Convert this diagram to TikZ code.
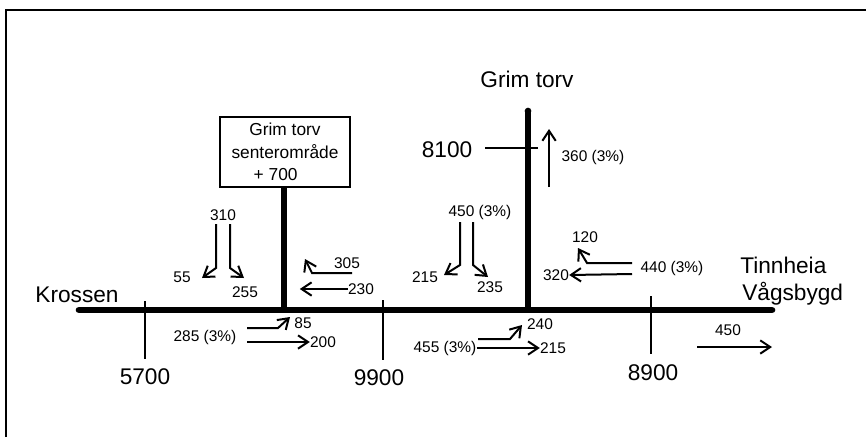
\documentclass[tikz,border=0pt]{standalone}
\usepackage{fontspec}
\setmainfont{Liberation Sans}
\usetikzlibrary{arrows.meta}
\tikzset{
  big/.style={font=\fontsize{17}{19}\selectfont, inner sep=0pt},
  mid/.style={font=\fontsize{13}{17}\selectfont},
  small/.style={font=\fontsize{11.6}{13}\selectfont, inner sep=0pt},
  road/.style={line width=5pt, line cap=round},
  tickline/.style={line width=1.4pt},
  flow/.style={line width=1.5pt, -{Straight Barb[length=7.5pt,width=10pt,line width=1.5pt]}},
  signbox/.style={draw, line width=1.1pt, minimum width=97.5pt, minimum height=52.5pt, align=center, inner sep=2pt, mid}
}
\begin{document}
\begin{tikzpicture}[x=0.75pt,y=-0.75pt]
\useasboundingbox (0,0) rectangle (866,437);
% frame (top and left edges)
\coordinate (fbl) at (6,437);
\coordinate (ftl) at (6,10);
\coordinate (ftr) at (866,10);
\draw[line width=2pt] (fbl) -- (ftl) -- (ftr);

% roads
\coordinate (rw) at (79,310);
\coordinate (re) at (772,310);
\coordinate (j1) at (284,310);
\coordinate (j2) at (528,310);
\coordinate (gtop) at (528,111);
\draw[road] (rw) -- (re);
\draw[road, line cap=butt] (gtop) -- (j2);
\fill (gtop) circle (2.5pt);

\node[signbox] (sent) at (285,152) {Grim torv\\senteromr\aa de\\\hspace*{-14pt}+ 700};
\draw[road, line cap=butt] (sent.south -| j1) -- (j1);

% big labels
\node[big, anchor=base] (grim) at (527,87) {Grim torv};
\node[big, anchor=base] (t8100) at (447,157) {8100};
\node[big, anchor=base] (kros) at (77,302) {Krossen};
\node[big, anchor=base west] (tinn) at (740,273) {Tinnheia};
\node[big, anchor=base west] (vags) at (742,300) {V\aa gsbygd};
\node[big, anchor=base] (t5700) at (145,384) {5700};
\node[big, anchor=base] (t9900) at (379,385) {9900};
\node[big, anchor=base] (t8900) at (653,380) {8900};

% ticks
\coordinate (k1a) at (145,301); \coordinate (k1b) at (145,359);
\coordinate (k2a) at (383,300); \coordinate (k2b) at (383,360);
\coordinate (k3a) at (651,296); \coordinate (k3b) at (651,354);
\coordinate (k4a) at (485,148); \coordinate (k4b) at (538,148);
\draw[tickline] (k1a) -- (k1b);
\draw[tickline] (k2a) -- (k2b);
\draw[tickline] (k3a) -- (k3b);
\draw[tickline] (k4a) -- (k4b);

% small labels
\node[small] (n310) at (223,215) {310};
\node[small] (n55) at (182,277) {55};
\node[small] (n255) at (245,292) {255};
\node[small] (n305) at (347,263) {305};
\node[small] (n230) at (361,289) {230};
\node[small] (n285) at (205,337) {285 (3\%)};
\node[small] (n85) at (303,323) {85};
\node[small] (n200) at (323,342) {200};
\node[small] (n450a) at (480,212) {450 (3\%)};
\node[small] (n215a) at (425,277) {215};
\node[small] (n235) at (490,287) {235};
\node[small] (n360) at (593,157) {360 (3\%)};
\node[small] (n120) at (585,237) {120};
\node[small] (n320) at (556,275) {320};
\node[small] (n440) at (672,268) {440 (3\%)};
\node[small] (n455) at (445,348) {455 (3\%)};
\node[small] (n240) at (540,324) {240};
\node[small] (n215b) at (553,348) {215};
\node[small] (n450b) at (728,330) {450};

% flow arrows
\coordinate (a310l) at (216,224);
\coordinate (a310r) at (230,224);
\draw[flow] (a310l) -- ++(0,44) -- ++(-14,10);
\draw[flow] (a310r) -- ++(0,44) -- ++(14,10);

\coordinate (a305) at (352,273);
\draw[flow] (a305) -- ++(-40,0) -- ++(-7,-14);
\draw[flow] (n230.west) -- ++(-48,0);

\coordinate (a285u) at (247,328);
\coordinate (a285l) at (247,342);
\draw[flow] (a285u) -- ++(31,0) -- ++(12,-11);
\draw[flow] (a285l) -- (n200.west);

\coordinate (a450l) at (460,222);
\coordinate (a450r) at (473,222);
\draw[flow] (a450l) -- ++(0,43) -- ++(-16,10);
\draw[flow] (a450r) -- ++(0,43) -- ++(15,12);

\coordinate (a360) at (549,187);
\draw[flow] (a360) -- ++(0,-58);

\coordinate (a440u) at (632,263);
\coordinate (a440l) at (632,274);
\draw[flow] (a440u) -- ++(-45,0) -- ++(-9,-15);
\draw[flow] (a440l) -- (n320.east);

\coordinate (a455u) at (478,339);
\draw[flow] (a455u) -- ++(32,0) -- ++(12,-14);
\draw[flow] (n455.east) -- (n215b.west);

\coordinate (a450t) at (697,347);
\coordinate (a450h) at (772,347);
\draw[flow] (a450t) -- (a450h);
\end{tikzpicture}
\end{document}
